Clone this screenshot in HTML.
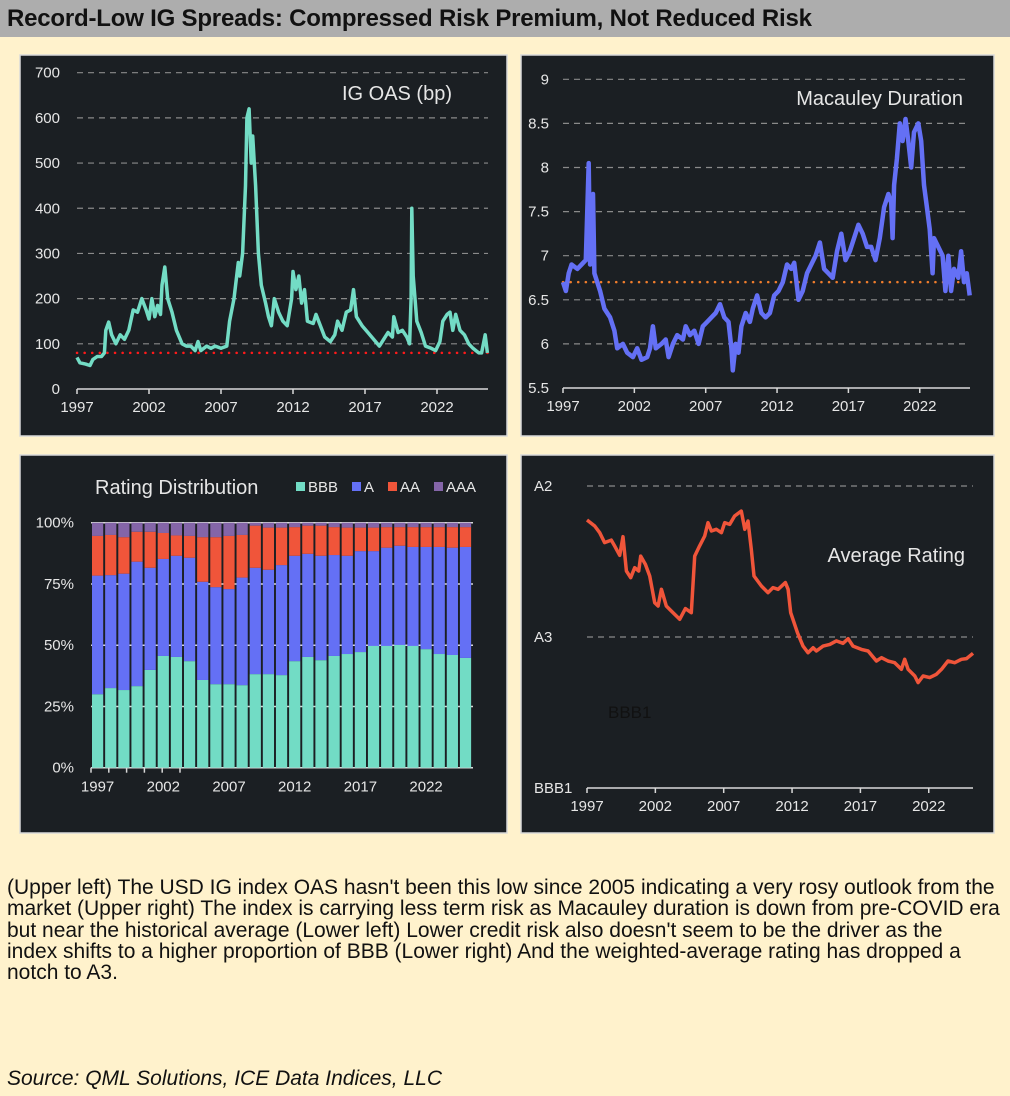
<!DOCTYPE html>
<html><head><meta charset="utf-8">
<style>
body{margin:0;width:1010px;height:1096px;background:#fff2cc;font-family:"Liberation Sans",sans-serif;position:relative;overflow:hidden}
#title{position:absolute;left:0;top:0;width:1010px;height:37px;background:#adadad;}
#title span{position:absolute;left:7px;top:5px;font-size:24px;font-weight:bold;color:#111;letter-spacing:-0.2px}
.note{position:absolute;left:7px;font-size:21px;line-height:21px;color:#111;white-space:nowrap;letter-spacing:0px}
svg{position:absolute;left:0;top:0}
</style></head><body>
<div id="title"><span>Record-Low IG Spreads: Compressed Risk Premium, Not Reduced Risk</span></div>
<svg id="s" width="1010" height="1096"></svg>
<div class="note" style="top:877px">(Upper left) The USD IG index OAS hasn't been this low since 2005 indicating a very rosy outlook from the</div>
<div class="note" style="top:898px">market (Upper right) The index is carrying less term risk as Macauley duration is down from pre-COVID era</div>
<div class="note" style="top:920px">but near the historical average (Lower left) Lower credit risk also doesn't seem to be the driver as the</div>
<div class="note" style="top:941px">index shifts to a higher proportion of BBB (Lower right) And the weighted-average rating has dropped a</div>
<div class="note" style="top:962px">notch to A3.</div>
<div class="note" style="top:1068px;font-style:italic">Source: QML Solutions, ICE Data Indices, LLC</div>
<script>
const oasYears=[1997.0,1997.2,1997.6,1997.9,1998.1,1998.4,1998.7,1998.9,1999.0,1999.2,1999.4,1999.7,2000.0,2000.3,2000.6,2000.9,2001.2,2001.5,2001.8,2002.0,2002.2,2002.4,2002.6,2002.8,2002.9,2003.1,2003.3,2003.6,2003.9,2004.3,2004.6,2004.9,2005.2,2005.4,2005.6,2006.0,2006.3,2006.6,2007.0,2007.4,2007.6,2007.9,2008.2,2008.3,2008.5,2008.7,2008.8,2008.95,2009.1,2009.2,2009.4,2009.6,2009.8,2010.1,2010.3,2010.5,2010.7,2011.0,2011.3,2011.6,2011.9,2012.0,2012.2,2012.4,2012.6,2012.8,2013.0,2013.4,2013.6,2013.9,2014.2,2014.6,2014.9,2015.1,2015.4,2015.7,2016.0,2016.2,2016.4,2016.8,2017.2,2017.6,2018.0,2018.3,2018.6,2018.9,2019.0,2019.3,2019.6,2019.9,2020.1,2020.2,2020.25,2020.35,2020.6,2020.9,2021.2,2021.6,2021.9,2022.2,2022.4,2022.7,2022.9,2023.1,2023.3,2023.6,2023.9,2024.2,2024.5,2024.7,2024.9,2025.1,2025.35,2025.5];
const oasValues=[70,58,55,52,65,72,72,80,130,148,120,100,120,110,130,175,170,200,175,155,200,160,185,165,230,270,200,170,130,100,95,95,85,105,85,95,90,95,90,95,150,200,280,250,300,450,600,620,500,560,450,300,230,190,160,140,200,170,150,140,200,260,220,250,190,220,150,145,165,140,115,105,120,150,130,170,175,220,160,140,125,110,95,110,125,115,160,125,130,115,100,200,400,250,150,125,95,90,85,105,150,165,170,130,165,130,120,100,90,85,80,80,120,80];
const oasAvg=[80];
const oasTicks=[0,100,200,300,400,500,600,700];
const durYears=[1997.0,1997.2,1997.4,1997.6,1998.0,1998.3,1998.6,1998.8,1998.9,1999.1,1999.2,1999.6,1999.9,2000.3,2000.6,2000.8,2001.2,2001.5,2001.9,2002.2,2002.5,2002.9,2003.1,2003.3,2003.5,2003.9,2004.2,2004.4,2004.7,2005.0,2005.4,2005.6,2005.9,2006.2,2006.5,2006.8,2007.1,2007.4,2007.7,2008.0,2008.3,2008.6,2008.8,2008.9,2009.1,2009.3,2009.5,2009.8,2010.1,2010.3,2010.6,2010.9,2011.2,2011.5,2011.8,2012.1,2012.4,2012.7,2013.0,2013.2,2013.5,2013.8,2014.1,2014.4,2014.7,2015.0,2015.3,2015.6,2015.9,2016.2,2016.5,2016.8,2017.1,2017.4,2017.7,2018.0,2018.3,2018.6,2018.9,2019.2,2019.5,2019.8,2020.0,2020.1,2020.2,2020.4,2020.6,2020.8,2021.0,2021.2,2021.4,2021.6,2021.9,2022.1,2022.3,2022.5,2022.7,2022.9,2023.0,2023.3,2023.6,2023.8,2024.0,2024.2,2024.4,2024.7,2024.9,2025.1,2025.3,2025.5];
const durValues=[6.7,6.6,6.8,6.9,6.85,6.9,6.95,8.05,6.9,7.7,6.8,6.6,6.4,6.3,6.15,5.95,6.0,5.9,5.85,5.95,5.82,5.85,5.95,6.2,5.95,6.0,6.05,5.85,6.0,6.1,6.05,6.2,6.1,6.15,6.0,6.2,6.25,6.3,6.35,6.45,6.3,6.25,5.95,5.7,6.0,5.9,6.2,6.35,6.25,6.4,6.55,6.35,6.3,6.35,6.55,6.6,6.7,6.9,6.85,6.92,6.5,6.6,6.8,6.9,7.0,7.15,6.85,6.8,6.75,7.05,7.25,6.95,7.05,7.2,7.35,7.25,7.1,7.1,6.95,7.2,7.55,7.7,7.6,7.2,7.8,8.1,8.5,8.3,8.55,8.3,8.0,8.4,8.5,8.3,7.8,7.55,7.3,6.8,7.2,7.1,7.0,6.6,7.0,6.6,6.85,6.75,7.05,6.7,6.8,6.55];
const durAvg=[6.7];
const durTicks=[5.5,6,6.5,7,7.5,8,8.5,9];
const ratYears=[1997.00,1997.56,1997.93,1998.29,1998.78,1999.02,1999.39,1999.63,1999.88,2000.20,2000.49,2000.78,2000.93,2001.27,2001.59,2001.95,2002.20,2002.44,2002.80,2003.17,2003.78,2004.20,2004.63,2004.88,2005.24,2005.61,2005.85,2006.10,2006.46,2006.83,2007.07,2007.44,2007.80,2008.29,2008.54,2008.78,2009.02,2009.22,2009.76,2010.24,2010.61,2010.98,2011.51,2011.71,2011.90,2012.39,2012.80,2013.17,2013.54,2013.78,2014.27,2014.76,2015.24,2015.73,2016.10,2016.46,2017.07,2017.56,2018.17,2018.54,2019.02,2019.51,2020.00,2020.24,2020.49,2020.98,2021.22,2021.59,2022.07,2022.56,2022.93,2023.41,2023.90,2024.39,2024.76,2025.24];
const ratValues=[6.225,6.265,6.309,6.375,6.358,6.397,6.459,6.336,6.563,6.607,6.541,6.563,6.464,6.519,6.596,6.773,6.795,6.684,6.795,6.828,6.883,6.812,6.839,6.464,6.397,6.331,6.243,6.298,6.287,6.309,6.243,6.254,6.199,6.166,6.287,6.232,6.419,6.596,6.662,6.706,6.673,6.684,6.640,6.684,6.839,6.971,7.060,7.104,7.071,7.093,7.060,7.049,7.026,7.042,7.011,7.060,7.082,7.093,7.159,7.137,7.159,7.170,7.214,7.148,7.214,7.258,7.302,7.258,7.269,7.247,7.214,7.159,7.170,7.148,7.143,7.108];
const ratTickVals=[6,7,8];
const ratTickLabels=["A2","A3","BBB1"];
const barYears=[1997,1998,1999,2000,2001,2002,2003,2004,2005,2006,2007,2008,2009,2010,2011,2012,2013,2014,2015,2016,2017,2018,2019,2020,2021,2022,2023,2024,2025];
const shareBBB=[30,32.5,31.7,33.3,39.9,45.6,45.2,43.5,35.8,34.1,34.1,33.7,38.2,38.2,37.8,43.5,45.2,43.9,45.6,46.4,47.2,49.7,49.7,50.1,49.7,48.4,46.4,46,44.8];
const shareA=[48.4,46.1,47.5,50.8,41.7,39.6,41.3,42.2,40.1,39.6,38.8,43.9,43.4,42.6,44.9,43,42.1,42.6,41.2,40.1,41.2,38.7,40.1,40.5,40.4,41.7,43.7,43.8,45.3];
const shareAA=[16.2,16.4,14.9,12.2,14.7,10.6,8.3,8.9,18.2,20.4,21.7,17.4,17.2,17.2,15.3,11.7,11.5,12.3,11.4,11.5,9.6,9.6,8.4,7.6,8.1,8.1,8.1,8.4,8.1];
const shareAAA=[5.4,5,5.9,3.7,3.7,4.2,5.2,5.4,5.9,5.9,5.4,5,1.2,2,2,1.8,1.2,1.2,1.8,2,2,2,1.8,1.8,1.8,1.8,1.8,1.8,1.8];
const pctTicks=[0,25,50,75,100];
const yearTicks=[1997,2002,2007,2012,2017,2022];

const NS="http://www.w3.org/2000/svg";
const svg=document.getElementById('s');
function mk(tag,attrs,parent){const e=document.createElementNS(NS,tag);for(const k in attrs)e.setAttribute(k,attrs[k]);(parent||svg).appendChild(e);return e;}
function txt(s,x,y,size,anchor,fill,parent){const t=mk('text',{x:x,y:y,'font-size':size,'text-anchor':anchor,fill:fill,'font-family':'Liberation Sans, sans-serif'},parent);t.textContent=s;return t;}
function panel(x,y,w,h,name){const g=mk('g',{});mk('rect',{x:x,y:y,width:w,height:h,fill:'#1b1f23',stroke:'#d9d9d9','stroke-width':1.5},g);return g;}

function lineChart(o){
  const g=panel(o.px,o.py,o.pw,o.ph,o.name);
  const xs=yr=>o.x0+(yr-1997)*o.xk;
  const ys=v=>o.y0-(v-o.vmin)*o.yk;
  o.ticks.forEach((v,i)=>{
    if(i>0||o.gridAll){const l=mk('line',{x1:o.x0,x2:o.xEnd,y1:ys(v),y2:ys(v),stroke:'#8a8a8a','stroke-width':1.2,'stroke-dasharray':'6 5'},g);}
    const t=txt(o.labels?o.labels[i]:String(v),o.labX,ys(v)+5,15,o.labAnchor||'end','#e6e6e6',g);
    
  });
  const ax=mk('line',{x1:o.x0,x2:o.xEnd,y1:o.axisY,y2:o.axisY,stroke:'#d9d9d9','stroke-width':1.5},g);
  
  yearTicks.forEach(yr=>{
    mk('line',{x1:xs(yr),x2:xs(yr),y1:o.axisY,y2:o.axisY+5,stroke:'#d9d9d9','stroke-width':1.5},g);
    const t=txt(String(yr),xs(yr),o.axisY+23,15,'middle','#e6e6e6',g);
    
  });
  if(o.avg){const a=mk('line',{x1:o.x0,x2:o.xEnd,y1:ys(o.avg[0]),y2:ys(o.avg[0]),stroke:o.avgColor,'stroke-width':2.5,'stroke-dasharray':'0.1 7.5','stroke-linecap':'round'},g);
    }
  const d=o.years.map((yr,i)=>(i?'L':'M')+xs(yr).toFixed(1)+','+ys(o.values[i]).toFixed(1)).join('');
  const p=mk('path',{d:d,fill:'none',stroke:o.color,'stroke-width':o.sw||3.5,'stroke-linejoin':'round'},g);
  
  const tt=txt(o.title,o.tx,o.ty,20,'end','#e6e6e6',g);
  
  return g;
}

lineChart({name:'oas-panel',px:20,py:55,pw:487,ph:381,x0:77,xk:14.4,xEnd:488,y0:389,vmin:0,yk:316.3/700,axisY:389,
  ticks:oasTicks,labX:60,years:oasYears,values:oasValues,color:'#73dcc5',seriesName:'oas-line',
  avg:oasAvg,avgColor:'#ff1a1a',title:'IG OAS (bp)',tx:452,ty:100});
lineChart({name:'duration-panel',px:521,py:55,pw:473,ph:381,x0:563,xk:14.27,xEnd:970,y0:388,vmin:5.5,yk:88.2,axisY:388,
  ticks:durTicks,labX:549,years:durYears,values:durValues,color:'#6470f5',sw:4.5,seriesName:'duration-line',
  avg:durAvg,avgColor:'#f07d2c',title:'Macauley Duration',tx:963,ty:105});
const rg=lineChart({name:'rating-panel',px:521,py:455,pw:473,ph:378,x0:587,xk:13.67,xEnd:973,y0:788,vmin:8,yk:-151,axisY:788,gridAll:true,
  ticks:ratTickVals,labels:ratTickLabels,labX:534,labAnchor:'start',years:ratYears,values:ratValues,color:'#f0553a',seriesName:'average-rating-line',
  title:'Average Rating',tx:965,ty:562});
const gls=rg.querySelectorAll('line[stroke-dasharray="6 5"]');gls[gls.length-1].remove();
const bl=txt('BBB1',608,718,17,'start','#111',rg);


(function(){
  const g=panel(20,455,487,378,'rating-distribution-panel');
  const y0=767.7,yk=2.45,bx=92,pitch=13.14,bw=11.2;
  const ys=v=>y0-v*yk;
  pctTicks.forEach(v=>{
    const l=mk('line',{x1:91,x2:473,y1:ys(v),y2:ys(v),stroke:'#d9d9d9','stroke-width':1.5},g);
    
    const t=txt(v+'%',74,ys(v)+5,15,'end','#e6e6e6',g);
    
  });
  const series=[[shareBBB,'#72dcc5','BBB'],[shareA,'#6470f5','A'],[shareAA,'#f0553a','AA'],[shareAAA,'#8465a8','AAA']];
  barYears.forEach((yr,i)=>{
    let cum=0;
    series.forEach(s=>{
      const v=s[0][i];
      const r=mk('rect',{x:bx+i*pitch,y:ys(cum+v),width:bw,height:v*yk,fill:s[1]},g);
      
      
      cum+=v;
    });
  });
  yearTicks.forEach((yr,k)=>{
    mk('line',{x1:91+k*17.8,x2:91+k*17.8,y1:y0,y2:y0+5,stroke:'#d9d9d9','stroke-width':1.5},g);
    const i=barYears.indexOf(yr);
    const t=txt(String(yr),bx+i*pitch+bw/2,y0+24,15,'middle','#e6e6e6',g);
    
  });
  const tt=txt('Rating Distribution',95,494,20,'start','#e6e6e6',g);
  
  const lx=[296,352,388,434];
  series.forEach((s,k)=>{
    const r=mk('rect',{x:lx[k],y:482,width:9,height:9,fill:s[1]},g);
    
    const t=txt(s[2],lx[k]+12,492,15,'start','#e6e6e6',g);
    
  });
})();
</script>
</body></html>
